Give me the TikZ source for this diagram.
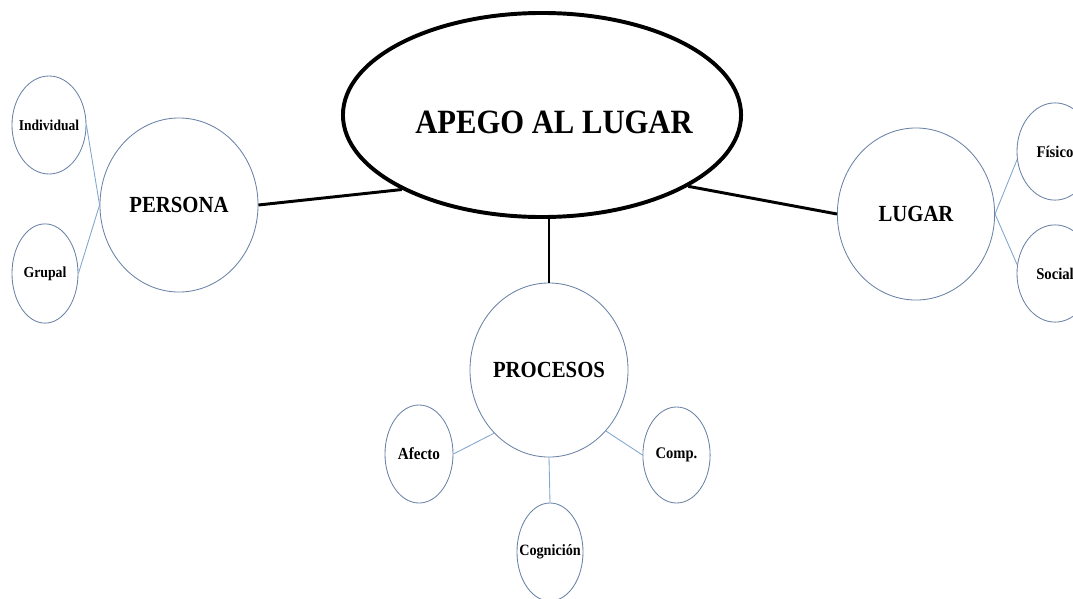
\documentclass[tikz,border=0pt]{standalone}
\usepackage{fontspec}
\setmainfont{Liberation Serif}[FakeStretch=0.9]
\usetikzlibrary{shapes.geometric}

\definecolor{rimblue}{RGB}{105,130,165}
\definecolor{linkblue}{RGB}{125,165,205}

\begin{document}
\begin{tikzpicture}[x=0.025cm,y=-0.025cm,
    bubble/.style 2 args={ellipse,draw=rimblue,line width=0.6pt,inner sep=0pt,
        minimum width=#1,minimum height=#2,font=\bfseries},
    link/.style={draw=linkblue,line width=0.6pt},
    bond/.style={draw=black,line width=2.1pt}]

    \useasboundingbox (0,0) rectangle (1073,599);
    \clip (0,0) rectangle (1073,599);

    % centre
    \node[ellipse,draw=black,line width=2.8pt,inner sep=0pt,minimum width=9.95cm,minimum height=5.1cm] (apego) at (542,115) {};
    \node[font=\fontsize{24.2}{28}\selectfont\bfseries] (apegotext) at (554,122) {APEGO AL LUGAR};

    % three branches
    \node[bubble={3.95cm}{4.35cm},font=\fontsize{16.4}{19}\selectfont\bfseries] (persona) at (179,205) {\makebox[0pt]{PERSONA}};
    \node[bubble={3.93cm}{4.3cm},font=\fontsize{16.4}{19}\selectfont\bfseries] (lugar) at (916,214) {\makebox[0pt]{LUGAR}};
    \node[bubble={3.95cm}{4.35cm},font=\fontsize{16.4}{19}\selectfont\bfseries] (procesos) at (549,370) {\makebox[0pt]{PROCESOS}};

    % leaves
    \node[bubble={1.85cm}{2.45cm},font=\fontsize{10.7}{13}\selectfont\bfseries] (individual) at (49,125) {\makebox[0pt]{Individual}};
    \node[bubble={1.65cm}{2.48cm},font=\fontsize{10.9}{13}\selectfont\bfseries] (grupal) at (45,273.5) {\makebox[0pt]{Grupal}};
    \node[bubble={1.9cm}{2.43cm},font=\fontsize{11.6}{14}\selectfont\bfseries] (fisico) at (1055,151.5) {\makebox[0pt]{Físico}};
    \node[bubble={1.9cm}{2.43cm},font=\fontsize{11.6}{14}\selectfont\bfseries] (social) at (1055,273.5) {\makebox[0pt]{Social}};
    \node[bubble={1.7cm}{2.45cm},font=\fontsize{12}{14}\selectfont\bfseries] (afecto) at (419,454) {\makebox[0pt]{Afecto}};
    \node[bubble={1.68cm}{2.4cm},font=\fontsize{11.5}{14}\selectfont\bfseries] (comp) at (676.5,455) {\makebox[0pt]{Comp.}};
    \node[bubble={1.65cm}{2.45cm},font=\fontsize{11.2}{14}\selectfont\bfseries] (cognicion) at (550,552) {\makebox[0pt]{Cognición}};

    \draw[bond] (persona.east) -- (apego.208);
    \draw[bond] (apego.334) -- (lugar.west);
    \draw[bond] (procesos.north |- apego.south) -- (procesos.north);

    \draw[link] (individual.east) -- (persona.west) -- (grupal.east);
    \draw[link] (fisico.192) -- (lugar.east) -- (social.167);
    \draw[link] (afecto.east) -- (procesos.229);
    \draw[link] (comp.west) -- (procesos.313);
    \draw[link] (cognicion.north) -- (procesos.south);
\end{tikzpicture}
\end{document}
